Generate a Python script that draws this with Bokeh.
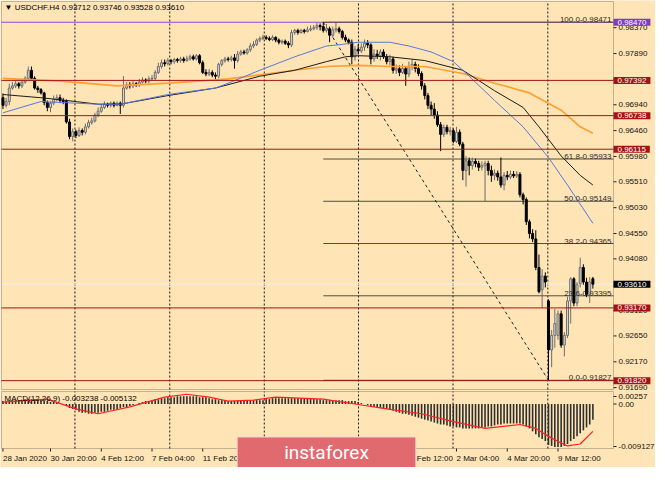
from math import pi
from bokeh.plotting import figure
from bokeh.models import Range1d, Label, BoxAnnotation
from bokeh.core.properties import value
from bokeh.embed import file_html
from bokeh.resources import INLINE

# ---------------- data ----------------
symbol_title = "\u25bc USDCHF.H4  0.93712 0.93746 0.93528 0.93610"
macd_title = "MACD(12,26,9) -0.003238 -0.005132"

opens = [
    .9707, .9693, .9700, .9725, .9729, .9733, .9729, .9736, .9743, .9758,
    .9743, .9725, .9722, .9716, .9698, .9689, .9697, .9704, .9707, .9702,
    .9700, .9662, .9635, .9644, .9637, .9646, .9643, .9653, .9661, .9664,
    .9675, .9682, .9689, .9695, .9693, .9697, .9693, .9697, .9693, .9725,
    .9731, .9729, .9733, .9731, .9736, .9740, .9738, .9742, .9743, .9754,
    .9765, .9772, .9770, .9776, .9774, .9778, .9776, .9779, .9776, .9779,
    .9783, .9779, .9785, .9772, .9754, .9751, .9754, .9749, .9747, .9769,
    .9776, .9779, .9778, .9781, .9776, .9788, .9792, .9790, .9796, .9803,
    .9806, .9814, .9817, .9819, .9817, .9815, .9819, .9814, .9810, .9812,
    .9808, .9805, .9828, .9832, .9828, .9832, .9830, .9833, .9835, .9837,
    .9841, .9839, .9832, .9835, .9823, .9833, .9835, .9830, .9819, .9814,
    .9810, .9783, .9797, .9794, .9801, .9808, .9805, .9779, .9788, .9785,
    .9792, .9783, .9774, .9779, .9758, .9761, .9754, .9761, .9751, .9765,
    .9769, .9761, .9752, .9729, .9711, .9693, .9686, .9675, .9657, .9639,
    .9652, .9644, .9646, .9626, .9643, .9621, .9572, .9590, .9581, .9589,
    .9585, .9578, .9581, .9585, .9572, .9563, .9567, .9560, .9545, .9563,
    .9560, .9565, .9562, .9565, .9527, .9518, .9477, .9455, .9445, .9392,
    .9351, .9376, .9330, .9239, .9266, .9266, .9306, .9248, .9266, .9330,
    .9371, .9326, .9362, .9392, .9365, .9342, .93712]
highs = [
    .9715, .9707, .9733, .9736, .9738, .9736, .9742, .9747, .9765, .9765,
    .9747, .9729, .9725, .9718, .9702, .9700, .9711, .9713, .9713, .9707,
    .9704, .9668, .9650, .9648, .9652, .9650, .9659, .9666, .9670, .9679,
    .9689, .9695, .9700, .9698, .9700, .9700, .9700, .9700, .9747, .9736,
    .9736, .9738, .9736, .9742, .9745, .9743, .9747, .9749, .9758, .9772,
    .9778, .9778, .9781, .9779, .9781, .9781, .9783, .9783, .9785, .9787,
    .9787, .9788, .9788, .9776, .9760, .9760, .9758, .9754, .9772, .9779,
    .9783, .9783, .9785, .9788, .9794, .9796, .9796, .9799, .9808, .9812,
    .9817, .9821, .9824, .9823, .9821, .9823, .9821, .9817, .9815, .9815,
    .9812, .9833, .9835, .9835, .9835, .9835, .9839, .9841, .9842, .9846,
    .9845, .98471, .9844, .9839, .9839, .9846, .9839, .9833, .9824, .9817,
    .9815, .9803, .9806, .9808, .9815, .9814, .9808, .9797, .9796, .9797,
    .9797, .9788, .9787, .9783, .9769, .9767, .9770, .9765, .9774, .9778,
    .9774, .9769, .9756, .9734, .9716, .9700, .9697, .9682, .9662, .9657,
    .9657, .9653, .9650, .9653, .9648, .9625, .9599, .9596, .9596, .9594,
    .9590, .9589, .9590, .9590, .9581, .9574, .9572, .9596, .9569, .9571,
    .9572, .9571, .9571, .9569, .9531, .9522, .9481, .9463, .9461, .9416,
    .9389, .9383, .9333, .9276, .9315, .9312, .9312, .9272, .9338, .9374,
    .9374, .9365, .9410, .9398, .9373, .9374, .93746]
lows = [
    .9686, .9689, .9693, .9722, .9725, .9724, .9725, .9733, .9740, .9740,
    .9722, .9716, .9713, .9693, .9682, .9680, .9693, .9700, .9697, .9695,
    .9659, .9630, .9626, .9632, .9634, .9637, .9639, .9650, .9657, .9661,
    .9671, .9679, .9686, .9689, .9689, .9689, .9691, .9677, .9689, .9722,
    .9724, .9725, .9727, .9727, .9733, .9734, .9734, .9738, .9740, .9751,
    .9761, .9765, .9767, .9769, .9770, .9772, .9772, .9772, .9774, .9776,
    .9776, .9776, .9769, .9751, .9747, .9747, .9745, .9740, .9743, .9765,
    .9772, .9774, .9774, .9761, .9772, .9785, .9787, .9787, .9792, .9799,
    .9803, .9810, .9814, .9814, .9812, .9812, .9810, .9806, .9806, .9805,
    .9799, .9801, .9824, .9824, .9826, .9826, .9828, .9830, .9832, .9833,
    .9832, .9828, .9828, .9810, .9819, .9828, .9826, .9815, .9810, .9806,
    .9769, .9776, .9787, .9790, .9794, .9799, .9769, .9774, .9779, .9776,
    .9779, .9769, .9767, .9752, .9751, .9747, .9751, .9729, .9745, .9758,
    .9754, .9747, .9722, .9704, .9686, .9675, .9668, .9653, .9608, .9634,
    .9639, .9637, .9623, .9623, .9617, .9554, .9542, .9563, .9574, .9578,
    .9571, .9572, .9515, .9563, .9551, .9554, .9553, .9540, .9535, .9554,
    .9556, .9558, .9558, .9522, .9509, .9471, .9446, .9439, .9387, .9344,
    .9317, .9355, .91827, .9207, .9243, .9258, .9243, .9227, .9261, .9288,
    .9320, .9320, .9355, .9360, .9337, .9326, .93528]
closes = [
    .9693, .9700, .9725, .9729, .9733, .9729, .9736, .9743, .9758, .9743,
    .9725, .9722, .9716, .9698, .9689, .9697, .9704, .9707, .9702, .9700,
    .9662, .9635, .9644, .9637, .9646, .9643, .9653, .9661, .9664, .9675,
    .9682, .9689, .9695, .9693, .9697, .9693, .9697, .9693, .9725, .9731,
    .9729, .9733, .9731, .9736, .9740, .9738, .9742, .9743, .9754, .9765,
    .9772, .9770, .9776, .9774, .9778, .9776, .9779, .9776, .9779, .9783,
    .9779, .9785, .9772, .9754, .9751, .9754, .9749, .9747, .9769, .9776,
    .9779, .9778, .9781, .9776, .9788, .9792, .9790, .9796, .9803, .9806,
    .9814, .9817, .9819, .9817, .9815, .9819, .9814, .9810, .9812, .9808,
    .9805, .9828, .9832, .9828, .9832, .9830, .9833, .9835, .9837, .9841,
    .9839, .9832, .9835, .9823, .9833, .9835, .9830, .9819, .9814, .9810,
    .9783, .9797, .9794, .9801, .9808, .9805, .9779, .9788, .9785, .9792,
    .9783, .9774, .9779, .9758, .9761, .9754, .9761, .9751, .9765, .9769,
    .9761, .9752, .9729, .9711, .9693, .9686, .9675, .9657, .9639, .9652,
    .9644, .9646, .9626, .9643, .9621, .9572, .9590, .9581, .9589, .9585,
    .9578, .9581, .9585, .9572, .9563, .9567, .9560, .9545, .9563, .9560,
    .9565, .9562, .9565, .9527, .9518, .9477, .9455, .9445, .9392, .9347,
    .9376, .9365, .9239, .9266, .9288, .9306, .9248, .9266, .9330, .9371,
    .9326, .9360, .9392, .9365, .9342, .9365, .93610]

# moving averages (sampled points: bar index, price)
ma_fast_x = [0, 12, 30, 37, 52, 67, 71, 81, 92, 102, 107, 112, 117, 122, 128, 135, 142, 147, 155, 164, 172, 178, 186]
ma_fast_y = [.9679, .9700, .9695, .9695, .9713, .9725, .9734, .9758, .9783, .9803, .9806, .9810, .9810, .9810,
             .9803, .9792, .9774, .9747, .9702, .9653, .9596, .9545, .9474]
ma_mid_x = [0, 12, 20, 30, 37, 52, 67, 81, 92, 102, 108, 112, 122, 133, 145, 155, 164, 169, 176, 182, 186]
ma_mid_y = [.9713, .9707, .9702, .9695, .9695, .9711, .9725, .9747, .9758, .9774, .9783, .9785, .9783, .9776,
            .9758, .9720, .9689, .9653, .9599, .9563, .9545]
ma_slow_x = [0, 18, 36, 52, 67, 71, 92, 102, 112, 122, 133, 145, 155, 166, 176, 182, 186]
ma_slow_y = [.9743, .9738, .9729, .9734, .9740, .9742, .9758, .9765, .9767, .9765, .9765, .9752, .9734, .9716,
             .9684, .9653, .9641]

# MACD main (histogram) and signal line
macd_hist = [
    0.0006, 0.0006, 0.0008, 0.0008, 0.0008, 0.0008, 0.0008, 0.0010, 0.0010, 0.0010,
    0.0010, 0.0008, 0.0008, 0.0006, 0.0006, 0.0004, 0.0004, 0.0002, 0.0002, 0.0000,
    -0.0004, -0.0008, -0.0010, -0.0012, -0.0016, -0.0018, -0.0018, -0.0020, -0.0020, -0.0018,
    -0.0018, -0.0016, -0.0016, -0.0014, -0.0012, -0.0012, -0.0010, -0.0008, -0.0006, -0.0006,
    -0.0004, -0.0002, 0.0000, 0.0002, 0.0004, 0.0006, 0.0006, 0.0008, 0.0010, 0.0010,
    0.0012, 0.0012, 0.0014, 0.0014, 0.0014, 0.0016, 0.0016, 0.0016, 0.0016, 0.0016,
    0.0016, 0.0016, 0.0014, 0.0014, 0.0014, 0.0012, 0.0010, 0.0010, 0.0008, 0.0008,
    0.0006, 0.0006, 0.0006, 0.0006, 0.0006, 0.0006, 0.0006, 0.0006, 0.0008, 0.0008,
    0.0008, 0.0008, 0.0008, 0.0010, 0.0010, 0.0012, 0.0012, 0.0012, 0.0012, 0.0012,
    0.0012, 0.0012, 0.0012, 0.0012, 0.0012, 0.0012, 0.0012, 0.0012, 0.0010, 0.0010,
    0.0010, 0.0008, 0.0008, 0.0008, 0.0008, 0.0008, 0.0008, 0.0008, 0.0006, 0.0006,
    0.0006, 0.0006, 0.0004, 0.0002, 0.0000, -0.0002, -0.0004, -0.0006, -0.0008, -0.0008,
    -0.0010, -0.0010, -0.0012, -0.0014, -0.0016, -0.0018, -0.0020, -0.0020, -0.0022, -0.0024,
    -0.0026, -0.0028, -0.0030, -0.0032, -0.0034, -0.0036, -0.0038, -0.0040, -0.0042, -0.0042,
    -0.0044, -0.0046, -0.0046, -0.0048, -0.0048, -0.0050, -0.0050, -0.0050, -0.0050, -0.0050,
    -0.0050, -0.0048, -0.0048, -0.0046, -0.0046, -0.0044, -0.0042, -0.0042, -0.0040, -0.0040,
    -0.0040, -0.0040, -0.0040, -0.0040, -0.0042, -0.0046, -0.0050, -0.0056, -0.0062, -0.0068,
    -0.0072, -0.0076, -0.0084, -0.0086, -0.0088, -0.0088, -0.0088, -0.0086, -0.0082, -0.0076,
    -0.0072, -0.0066, -0.0060, -0.0054, -0.0048, -0.0042, -0.003238]
signal_x = [0, 14, 23, 30, 40, 51, 58, 65, 71, 79, 86, 101, 111, 121, 132, 142, 152, 163, 168, 173, 178, 182, 186]
signal_y = [0.0004, 0.0010, -0.0010, -0.0020, -0.0006, 0.0014, 0.0020, 0.0014, 0.0006, 0.0008, 0.0014, 0.0010,
            0.0000, -0.0010, -0.0020, -0.0036, -0.0050, -0.0042, -0.0050, -0.0070, -0.0086, -0.0082, -0.0056]

# price scale ticks
price_ticks = [0.98370, 0.97890, 0.97410, 0.96940, 0.96460, 0.95980, 0.95510, 0.95030,
               0.94550, 0.94080, 0.93600, 0.93120, 0.92650, 0.92170, 0.91690]
macd_tick_labels = ["0.00257", "0.00", "-0.009127"]

# horizontal levels
resist_price, resist_label = 0.98471, "0.98470"
level_prices = [0.97392, 0.96738, 0.96115, 0.93170, 0.91820]
level_labels = ["0.97392", "0.96738", "0.96115", "0.93170", "0.91820"]
bid_price, bid_label = 0.93610, "0.93610"

# Fibonacci retracement
fib_names = ["100.0", "61.8", "50.0", "38.2", "23.6", "0.0"]
fib_prices = [0.98471, 0.95933, 0.95149, 0.94365, 0.93395, 0.91827]
fib_start_bar, fib_end_bar = 101, 172

# time scale
date_labels = ["28 Jan 2020", "30 Jan 20:00", "4 Feb 12:00", "7 Feb 04:00", "11 Feb 20:00", "14 Feb 12:00",
               "19 Feb 04:00", "21 Feb 20:00", "26 Feb 12:00", "2 Mar 04:00", "4 Mar 20:00", "9 Mar 12:00"]
date_bars = [0, 15, 31, 47, 63, 79, 95, 111, 127, 143, 159, 175]
grid_bars = [22.7, 52.6, 82.4, 112.1, 141.9, 171.8]

# ---------------- layout (pixels) ----------------
W, H = 655, 467
PX_L, PX_R = 1, 613          # panel left/right edge
MAIN_T, MAIN_B = 1, 389      # price panel top/bottom
MACD_T, MACD_B = 391, 448    # MACD panel top/bottom

x_lo, x_hi = -0.45, 192.5    # bar span shown in the panels
p_lo, p_hi = 0.91656, 0.98856
m_lo, m_hi = -0.009127, 0.00257

bpp = (x_hi - x_lo) / (PX_R - PX_L)
ppp = (p_hi - p_lo) / (MAIN_B - MAIN_T)
mpp = (m_hi - m_lo) / (MACD_B - MACD_T)

BG = "#FFE4B5"
FONT = "Liberation Sans"
FS = "8px"
RED = "#A31414"
DARK = "#3c3c3c"

p = figure(width=W, height=H,
           x_range=Range1d(x_lo - PX_L * bpp, x_hi + (W - PX_R) * bpp),
           y_range=Range1d(p_lo - (H - MAIN_B) * ppp, p_hi + MAIN_T * ppp),
           x_axis_location=None, y_axis_location=None, output_backend="svg", toolbar_location=None,
           min_border=0, background_fill_color=BG, border_fill_color=BG, outline_line_color=None)
p.extra_y_ranges = {"macd": Range1d(m_lo - (H - MACD_B) * mpp, m_hi + MACD_T * mpp)}
for g in p.grid:
    g.visible = False

ng = len(grid_bars)
# vertical dotted grid (both panels)
p.segment(x0=grid_bars, y0=[p_lo] * ng, x1=grid_bars, y1=[p_hi] * ng, line_color="#1a1a1a",
          line_dash="2 2", line_width=1, level="underlay")
p.segment(x0=grid_bars, y0=[m_lo] * ng, x1=grid_bars, y1=[m_hi] * ng, line_color="#1a1a1a",
          line_dash="2 2", line_width=1, level="underlay", y_range_name="macd")

# purple resistance line and bid line (under everything else)
p.segment(x0=[x_lo], y0=[resist_price], x1=[x_hi], y1=[resist_price], line_color="#9446E0", line_width=1)
p.segment(x0=[x_lo], y0=[bid_price], x1=[x_hi], y1=[bid_price], line_color="#F0F0F6", line_width=1)

# fibonacci lines + diagonal
nf = len(fib_prices)
p.segment(x0=[fib_start_bar] * nf, y0=fib_prices, x1=[x_hi] * nf, y1=fib_prices,
          line_color="#4f4f45", line_width=1)
p.line([fib_start_bar, fib_end_bar], [fib_prices[0], fib_prices[-1]], line_color="#202020",
       line_width=1, line_dash="3 3")

# candles
idx = list(range(len(closes)))
up = [i for i in idx if closes[i] >= opens[i]]
dn = [i for i in idx if closes[i] < opens[i]]
p.segment(x0=up, y0=[lows[i] for i in up], x1=up, y1=[highs[i] for i in up], line_color="#6e6e6e", line_width=1)
p.segment(x0=dn, y0=[lows[i] for i in dn], x1=dn, y1=[highs[i] for i in dn], line_color="#000000", line_width=1)
p.vbar(x=up, width=0.62, top=[closes[i] for i in up], bottom=[opens[i] for i in up],
       fill_color="#D8D8D8", line_color="#6e6e6e", line_width=1)
p.vbar(x=dn, width=0.62, top=[opens[i] for i in dn], bottom=[closes[i] for i in dn],
       fill_color="#000000", line_color="#000000", line_width=1)

# moving averages
p.line(ma_slow_x, ma_slow_y, line_color="#FFA032", line_width=1.7)
p.line(ma_mid_x, ma_mid_y, line_color="#1c1c1c", line_width=1)
p.line(ma_fast_x, ma_fast_y, line_color="#5878E0", line_width=1)

# red horizontal levels
nl = len(level_prices)
p.segment(x0=[x_lo] * nl, y0=level_prices, x1=[x_hi] * nl, y1=level_prices, line_color=RED, line_width=1)

# MACD
p.vbar(x=idx, width=0.5, top=macd_hist, bottom=0, fill_color="#2e2e2e", line_color=None, y_range_name="macd")
p.line(signal_x, signal_y, line_color="#FF2020", line_width=1.2, y_range_name="macd")

# panel frames
p.add_layout(BoxAnnotation(left=x_lo, right=x_hi, bottom=p_lo, top=p_hi, fill_color=None,
                           line_color=DARK, line_width=1, level="overlay"))
p.add_layout(BoxAnnotation(left=x_lo, right=x_hi, bottom=m_lo, top=m_hi, fill_color=None,
                           line_color=DARK, line_width=1, level="overlay", y_range_name="macd"))

# price scale (ticks + labels)
npt = len(price_ticks)
p.ray(x=[x_hi] * npt, y=price_ticks, length=3, length_units="screen", angle=0, line_color="#202020")
p.text(x=[x_hi] * npt, y=price_ticks, text=[f"{v:.5f}" for v in price_ticks], x_offset=5,
       text_font=value(FONT), text_font_size=value(FS), text_color="#111111",
       text_align="left", text_baseline="middle")

# MACD scale
macd_label_pos = [m_hi - 5 * mpp, 0.0, m_lo + 2 * mpp]
p.ray(x=[x_hi] * 3, y=macd_label_pos, length=3, length_units="screen", angle=0, line_color="#202020",
      y_range_name="macd")
p.text(x=[x_hi] * 3, y=macd_label_pos, text=macd_tick_labels, x_offset=5,
       text_font=value(FONT), text_font_size=value(FS), text_color="#111111",
       text_align="left", text_baseline="middle", y_range_name="macd")

# time scale ticks + labels
nd = len(date_bars)
p.ray(x=date_bars, y=[m_lo] * nd, length=3, length_units="screen", angle=-pi / 2, line_color="#202020",
      y_range_name="macd")
for b, t in zip(date_bars, date_labels):
    p.add_layout(Label(x=b, y=H - MACD_B - 9.5, x_units="data", y_units="screen", text=t, text_font=FONT,
                       text_font_size=FS, text_color="#111111", text_align="left", text_baseline="middle"))

# fib labels
for name, v in zip(fib_names, fib_prices):
    p.add_layout(Label(x=x_hi, y=v, x_units="data", y_units="data", x_offset=-2, text=f"{name}-{v:.5f}",
                       text_font=FONT, text_font_size=FS, text_color="#2a2a2a",
                       text_align="right", text_baseline="bottom"))


def price_box(v, text, fill):
    p.add_layout(Label(x=x_hi, y=v, x_units="data", y_units="data", text=text,
                       text_font=FONT, text_font_size=FS, text_color="white",
                       text_align="left", text_baseline="middle",
                       background_fill_color=fill, padding=(4, 4, 1, 1), level="overlay"))


price_box(resist_price, resist_label, "#7E3CC4")
for v, t in zip(level_prices, level_labels):
    price_box(v, t, RED)
price_box(bid_price, bid_label, "#000000")

# titles
p.add_layout(Label(x=4, y=H - MAIN_T - 6, x_units="screen", y_units="screen", text=symbol_title,
                   text_font=FONT, text_font_size=FS, text_color="#000000", text_baseline="middle"))
p.add_layout(Label(x=4, y=H - MACD_T - 7, x_units="screen", y_units="screen", text=macd_title,
                   text_font=FONT, text_font_size=FS, text_color="#000000", text_baseline="middle"))

# watermark banner
p.add_layout(Label(x=326, y=8.5, x_units="screen", y_units="screen", text="instaforex",
                   text_font="Roboto", text_font_size="19px", text_color="white",
                   text_align="center", text_baseline="middle",
                   background_fill_color="#E06A6E", border_line_color="#F6D2D2", border_line_width=1,
                   padding=(47, 47, 4, 17), level="overlay"))

open("out.html", "w").write(file_html(p, INLINE))
